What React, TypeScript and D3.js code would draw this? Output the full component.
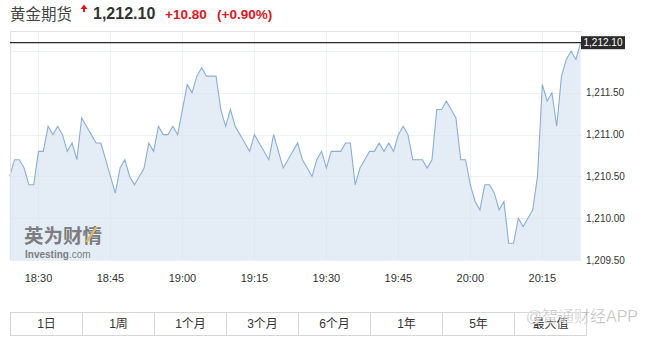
import React from "react";
import * as d3 from "d3";

const START_TIME = "2018-01-01T18:24:00";
const STEP_MINUTES = 1;
const prices = [
  1210.5, 1210.7, 1210.7, 1210.6, 1210.4, 1210.4, 1210.8, 1210.8, 1211.1, 1211.0,
  1211.1, 1211.0, 1210.8, 1210.9, 1210.7, 1211.2, 1211.1, 1211.0, 1210.9, 1210.9,
  1210.7, 1210.5, 1210.3, 1210.6, 1210.7, 1210.5, 1210.4, 1210.5, 1210.6, 1210.9,
  1210.8, 1211.1, 1211.0, 1211.0, 1211.1, 1211.0, 1211.3, 1211.6, 1211.5, 1211.7,
  1211.8, 1211.7, 1211.7, 1211.7, 1211.3, 1211.1, 1211.3, 1211.1, 1211.0, 1210.9,
  1210.8, 1211.0, 1210.9, 1210.8, 1210.7, 1211.0, 1210.8, 1210.6, 1210.7, 1210.8,
  1210.9, 1210.7, 1210.6, 1210.5, 1210.7, 1210.8, 1210.6, 1210.8, 1210.8, 1210.8,
  1210.9, 1210.9, 1210.4, 1210.6, 1210.7, 1210.8, 1210.8, 1210.9, 1210.8, 1210.9,
  1210.8, 1211.0, 1211.1, 1211.0, 1210.7, 1210.7, 1210.7, 1210.6, 1210.7, 1211.3,
  1211.3, 1211.4, 1211.3, 1211.2, 1210.7, 1210.7, 1210.4, 1210.2, 1210.1, 1210.4,
  1210.4, 1210.3, 1210.1, 1210.2, 1209.7, 1209.7, 1210.0, 1209.9, 1210.0, 1210.1,
  1210.5, 1211.6, 1211.4, 1211.5, 1211.1, 1211.7, 1211.9, 1212.0, 1211.9, 1212.1,
];
const xTickLabels = ["18:30", "18:45", "19:00", "19:15", "19:30", "19:45", "20:00", "20:15"];
const yTickValues = [1209.5, 1210.0, 1210.5, 1211.0, 1211.5, 1212.0];
const yDomain = [1209.5, 1212.24];
const titleName = "黄金期货";
const lastPrice = 1212.1;
const changeText = "+10.80";
const changePctText = "(+0.90%)";
const rangeButtons = ["1日", "1周", "1个月", "3个月", "6个月", "1年", "5年", "最大值"];
const watermark = "@智通财经APP";

const W = 645;
const H = 338;
const PL = 10;
const PR = 582;
const PT = 31;
const PB = 260;
const LATIN = "'Liberation Sans', Arial, 'Noto Sans CJK SC', sans-serif";

export default function App() {
  const t0 = new Date(START_TIME);
  const times = prices.map((_, i) => new Date(t0.getTime() + i * STEP_MINUTES * 60000));
  const data = prices.map((v, i) => ({ t: times[i], v }));

  const x = d3.scaleTime().domain([times[0], times[times.length - 1]]).range([PL - 0.3, PR - 1.3]);
  const y = d3.scaleLinear().domain(yDomain).range([PB, PT]);

  const area = d3
    .area<{ t: Date; v: number }>()
    .x((d) => x(d.t))
    .y0(PB)
    .y1((d) => y(d.v));
  const line = d3
    .line<{ t: Date; v: number }>()
    .x((d) => x(d.t))
    .y((d) => y(d.v));

  const parse = (s: string) => {
    const [h, m] = s.split(":").map(Number);
    const d = new Date(t0);
    d.setHours(h, m, 0, 0);
    return d;
  };
  const fmt = d3.format(",.2f");
  const yLast = y(lastPrice);
  const btnW = 72;

  return (
    <svg
      width={W}
      height={H}
      style={{ position: "absolute", left: 0, top: 0, background: "#fff" }}
      fontFamily={LATIN}
    >
      {/* header */}
      <text x={10} y={20} fontSize={15.5} fill="#444">{titleName}</text>
      <path d="M84,4.5 L80.5,9 L83,9 L83,12 L85,12 L85,9 L87.5,9 Z" fill="#e0141e" />
      <text x={93} y={18.5} fontSize={16} fontWeight="bold" fill="#333">
        {d3.format(",.2f")(lastPrice)}
      </text>
      <text x={165} y={18.5} fontSize={13.5} fontWeight="bold" fill="#e0141e">{changeText}</text>
      <text x={217} y={18.5} fontSize={13.5} fontWeight="bold" fill="#e0141e">{changePctText}</text>

      {/* area + line */}
      <path d={area(data) || ""} fill="#e4edf6" />

      {/* grid */}
      {yTickValues.map((v) => (
        <line key={"gy" + v} x1={PL} x2={PR} y1={Math.round(y(v)) + 0.5} y2={Math.round(y(v)) + 0.5}
          stroke="#dde3ea" strokeOpacity={0.55} />
      ))}
      {xTickLabels.map((s) => (
        <line key={"gx" + s} x1={Math.round(x(parse(s))) + 0.5} x2={Math.round(x(parse(s))) + 0.5}
          y1={PT} y2={PB} stroke="#dde3ea" strokeOpacity={0.55} />
      ))}

      <path d={line(data) || ""} fill="none" stroke="#8aaed5" strokeWidth={1.1} />

      {/* plot border */}
      <line x1={PL + 0.5} x2={PL + 0.5} y1={PT} y2={PB} stroke="#e2e2e2" />
      <line x1={PL} x2={PR} y1={PT + 0.5} y2={PT + 0.5} stroke="#e2e2e2" />

      {/* last price line */}
      <line x1={PL} x2={PR} y1={yLast} y2={yLast} stroke="#2a2a2a" strokeWidth={1.2} />
      <rect x={581} y={yLast - 6.5} width={44} height={13} fill="#2b2b2b" />
      <text x={603} y={yLast} dy="0.35em" fontSize={10} fill="#fff" textAnchor="middle">
        {fmt(lastPrice)}
      </text>

      {/* y axis labels */}
      {yTickValues
        .filter((v) => Math.abs(y(v) - yLast) > 12)
        .map((v) => (
          <text key={"yl" + v} x={586} y={y(v)} dy="0.35em" fontSize={10} fill="#333">
            {fmt(v)}
          </text>
        ))}

      {/* x axis labels */}
      {xTickLabels.map((s) => (
        <text key={"xl" + s} x={x(parse(s))} y={278} dy="0.35em" fontSize={11} fill="#333" textAnchor="middle">
          {s}
        </text>
      ))}

      {/* investing watermark */}
      <g opacity={0.85}>
        <text x={24} y={243} fontSize={19.5} fontWeight="bold" fill="#6a6a6a"
          fontFamily="'Noto Sans CJK SC', sans-serif">英为财情</text>
        <path d="M85,242 L95,227 L98,227 L88,242 Z" fill="#d8b24a" />
        <text x={25} y={258} fontSize={10} fill="#6a6a6a">
          <tspan fontWeight="bold">Investing</tspan>
          <tspan>.com</tspan>
        </text>
      </g>

      {/* range buttons */}
      {rangeButtons.map((b, i) => (
        <g key={b}>
          <rect x={10.5 + i * btnW} y={312.5} width={btnW} height={23} fill="#fff" stroke="#d6d6d6" />
          <text x={10.5 + i * btnW + btnW / 2} y={324} dy="0.35em" fontSize={12} fill="#333" textAnchor="middle">
            {b}
          </text>
        </g>
      ))}

      {/* bottom-right watermark */}
      <text x={638} y={322} fontSize={16} fill="#9a9a9a" fillOpacity={0.75} textAnchor="end"
        stroke="#fff" strokeWidth={0.4}>
        {watermark}
      </text>
    </svg>
  );
}
